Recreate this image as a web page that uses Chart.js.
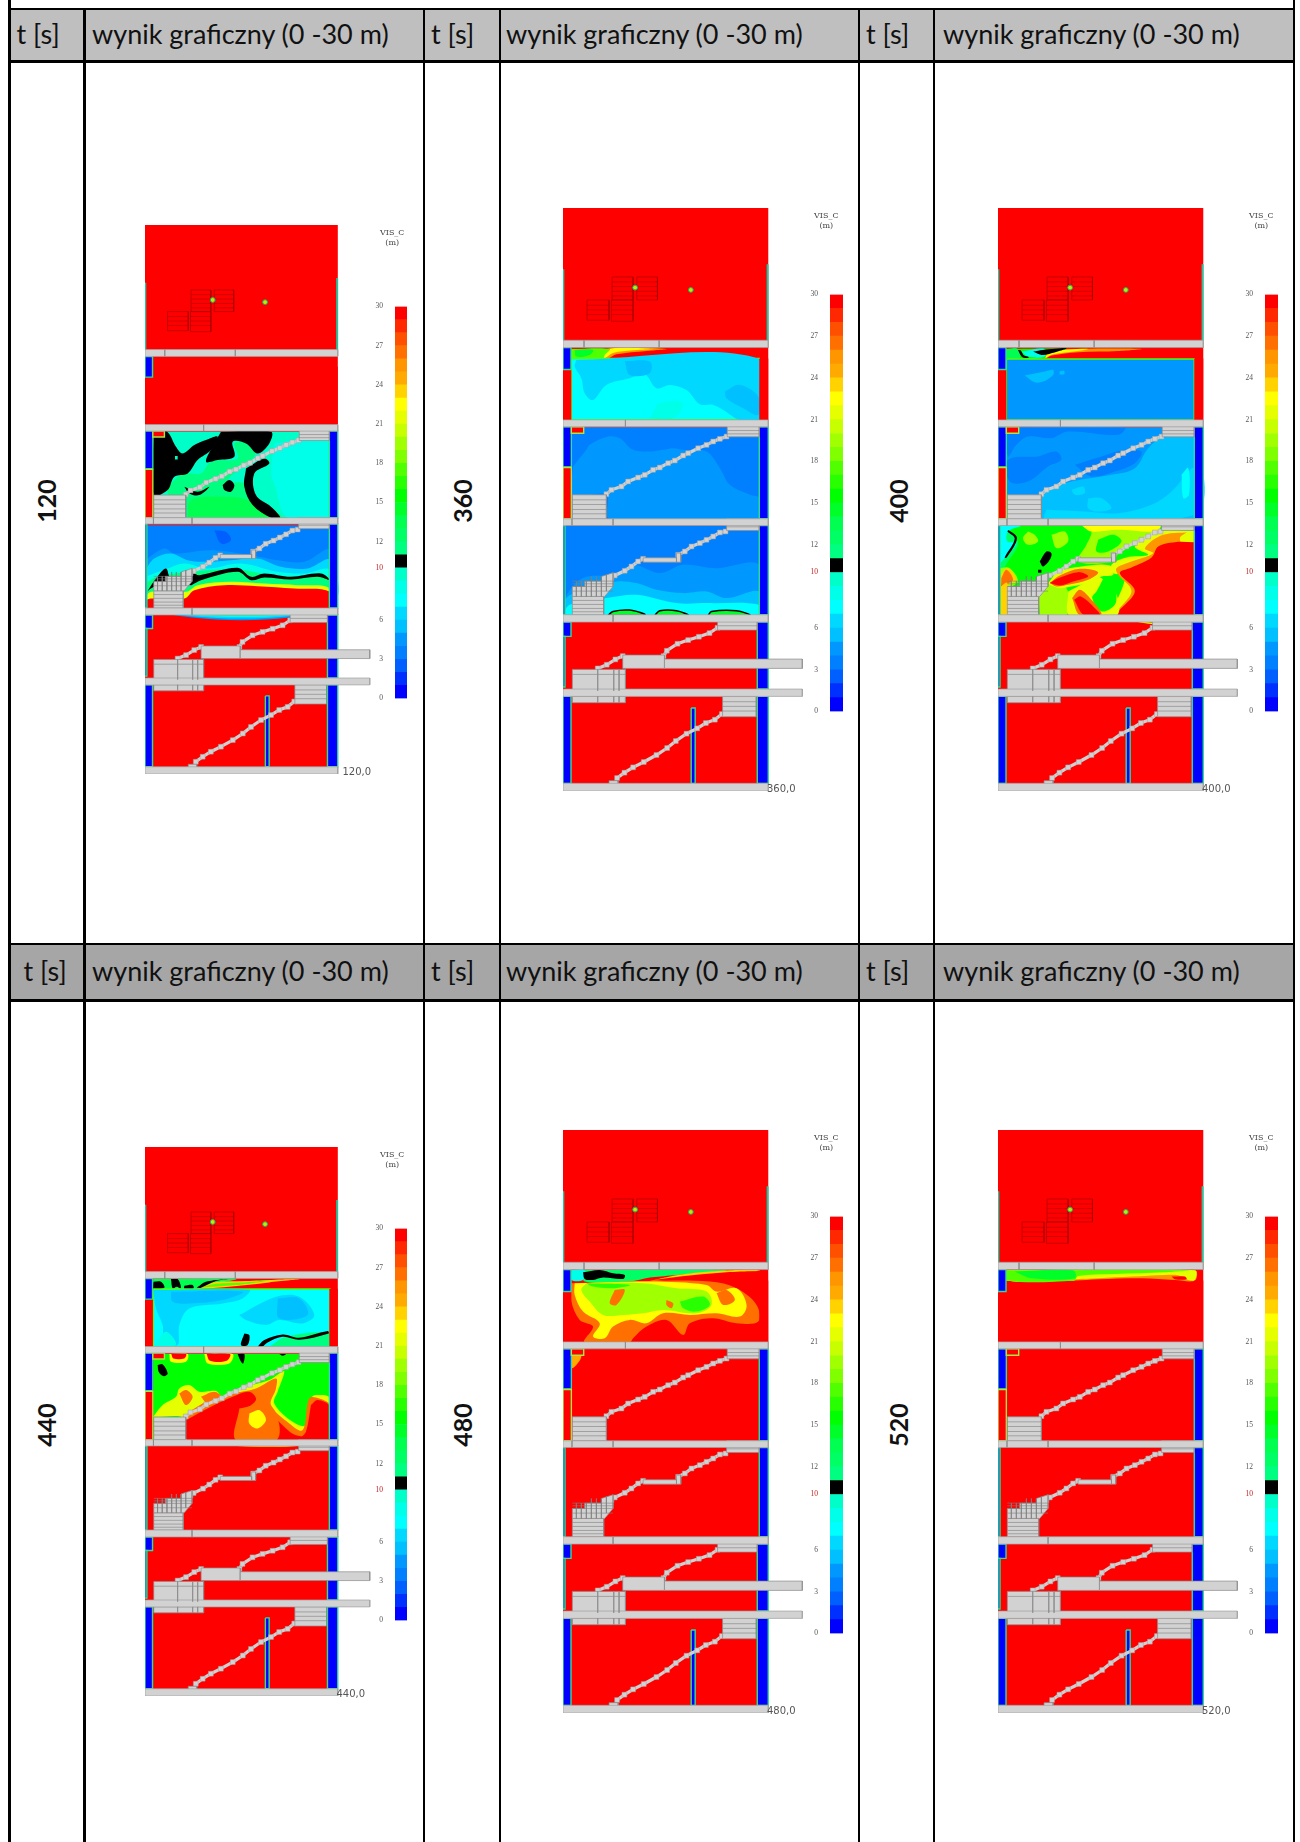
<!DOCTYPE html>
<html lang="pl">
<head>
<meta charset="utf-8">
<title>VIS_C</title>
<script src="https://cdn.jsdelivr.net/npm/chart.js@4"></script>
<style>
  html, body { margin: 0; padding: 0; background: #fff; }
  #page { position: relative; width: 1300px; height: 1842px; overflow: hidden; font-family: Lato, sans-serif; color: #111; }
  #page > * { position: absolute; }
  .line { background: #000; }
  .head { font-size: 27px; line-height: 30px; white-space: nowrap; }
  .time { font-size: 25px; font-weight: 700; line-height: 30px; transform: translate(-50%, -50%) rotate(-90deg); }
  .unit { font-family: "DejaVu Serif", serif; font-size: 8px; line-height: 10px; color: #444; text-align: center; width: 40px; }
  .stamp { font-family: "DejaVu Sans", sans-serif; font-size: 10px; color: #555; }
  canvas { filter: blur(0.5px); }
</style>
</head>
<body>
<div id="page"></div>
<script>
// --- dane ---
const TIMES = [120, 360, 400, 440, 480, 520];
const HEAD_TIME = 't [s]';
const HEAD_RESULT = 'wynik graficzny (0 -30 m)';
const LEGEND_TITLE = 'VIS_C';
const LEGEND_UNIT = '(m)';
const LEGEND_TICKS = [0, 3, 6, 10, 12, 15, 18, 21, 24, 27, 30];

// kolory skali, przedzial n-1..n metrow, od 1 do 30
const VIS_COLOURS = [
  '#0000ff', '#0030ff', '#0060ff', '#0080ff', '#0098ff', '#00c0ff', '#00d8ff', '#00ffff', '#00ffe8', '#00ffc8',
  '#000000', '#00ff80', '#00ff64', '#00ff50', '#00ff28', '#00ff00', '#28ff00', '#50ff00', '#80ff00', '#a0ff00',
  '#c8ff00', '#e6ff00', '#ffff00', '#ffd200', '#ffaa00', '#ff9600', '#ff7000', '#ff5000', '#ff2800', '#ff0000'
];

// --- budynek, jednostki modelu ---
const BUILDING_W = 615, MODEL_W = 740, MODEL_H = 1750;
const SLABS = [[0,397,615,419],[0,636,615,657],[0,933,615,953],[0,1221,615,1243],[0,1444,717,1466],[0,1727,615,1750]];
const SLAB_JOINTS = [[63,397,419],[288,397,419],[187,636,657],[27,933,953],[150,933,953],[150,1221,1243]];
const MASKS = [[588,452,615,636],[0,485,25,636]];
const BLUE_WALLS = [[0,419,24,485],[0,657,25,777],[588,657,615,933],[588,953,615,1221],[0,953,6,1221],[0,1243,24,1286],
  [0,1286,6,1438],[582,1243,615,1444],[0,1466,24,1727],[582,1466,615,1727],[384,1501,396,1727]];
const RED_WALLS = [[0,779,25,933],[25,657,62,676]];
const LANDINGS = [[28,861,130,933],[492,643,588,687],[490,933,588,968],[340,1036,353,1063],[240,1050,340,1063],
  [28,1166,122,1221],[463,1225,582,1267],[179,1342,304,1382],[304,1354,717,1382],[28,1385,187,1449],[28,1466,187,1485],
  [478,1466,579,1527],[138,1719,165,1731]];
const BLOCK_JOINTS = [[104,1385,1449],[152,1385,1449],[168,1385,1449],[104,1466,1485],[152,1466,1485],[168,1466,1485]];
const MESH_BLOCK = [28,1136,65,1136,65,1120,115,1120,115,1106,150,1095,150,1136,125,1166,28,1166];
const TREADS = [
  [28,130,[876,890,905,918]], [492,588,[655,668,678]], [490,588,[945,957]], [28,122,[1178,1190,1202,1212]],
  [463,582,[1240,1254]], [28,187,[1400]], [478,579,[1482,1496,1510]]
];
const MESH_ROWS = [[28,150,[1120,1128,1136,1150]]];
const MESH_COLS = [[40,1120,1166],[55,1120,1166],[70,1120,1166],[85,1106,1166],[100,1106,1166],[115,1106,1166],[130,1100,1150]];
const STAIRS = [
  [130,859,145,846,175,836,195,821,225,809,245,801,270,786,290,779,315,766,335,758,360,743,375,736,405,721,430,711,450,701,470,693,490,686],
  [487,971,470,974,450,986,430,996,410,1006,385,1016,365,1031,345,1041],
  [240,1053,225,1061,205,1076,185,1089,155,1103,145,1111],
  [463,1260,439,1276,407,1287,375,1297,343,1308,311,1329,301,1345],
  [179,1345,157,1355,131,1371,104,1382],
  [476,1519,455,1536,428,1546,402,1562,370,1578,338,1600,312,1621,280,1642,242,1663,210,1679,184,1695,162,1711]
];
const ROOF_EDGES = [[1,184,1,397],[613,169,613,397]];
const ROOF_UNITS = [[147,207,210,276],[221,207,283,276],[72,276,138,337],[145,276,210,340]];
const ROOF_ROWS = [222,236,250,264,292,306,320];
const ROOF_DOTS = [[216,239],[383,246]];

// --- pola widzialnosci: [poziom, obrys z odczytu, poziom obwodki] ---
const FIELD_120_F3 = [
  [10,[68,665,597,665,597,923,68,923]],
  [9,[430,700,500,690,597,690,597,923,470,923,430,820,420,790]],
  [12,[165,923,110,850,130,810,160,790,210,790,240,755,320,745,310,700,350,695,370,710,370,740,330,770,290,815,340,820,380,870,450,923]],
  [14,[170,923,180,870,280,860,350,870,420,923]],
  [11,[68,665,108,665,135,710,155,730,190,705,225,690,260,680,240,720,200,750,170,790,130,800,110,840,68,855]],
  [11,[270,665,420,665,415,700,380,730,345,700,305,695,310,740,260,750,225,755,250,700]],
  [11,[345,775,400,745,415,760,370,790,375,855,420,890,448,923,420,923,365,885,340,830]],
  [11,[275,825,295,810,310,825,300,845,280,840]],
  [11,[160,830,200,845,235,830,205,855,175,850]],
  [10,[132,738,140,738,140,748,132,748]]
];
const FIELD_120_F4 = [
  [4,[42,15,597,15,597,267,42,267]],
  [3,[250,30,285,35,300,60,270,70]],
  [5,[42,120,100,85,130,100,240,90,360,105,440,120,520,125,597,90,597,267,42,267]],
  [7,[42,150,70,115,120,100,170,120,230,125,300,120,380,115,450,140,530,145,597,120,597,267,42,267]],
  [9,[42,170,110,145,160,130,230,145,330,130,440,155,520,160,597,150,597,267,42,267]],
  [12,[42,190,80,170,185,155,320,148,420,165,500,170,597,175,597,267,42,267]],
  [11,[48,215,75,175,105,145,120,175,185,160,205,165,320,143,360,170,400,160,480,170,570,160,597,180,560,170,480,178,400,172,360,180,320,155,210,180,190,190,180,195,110,185,60,205]],
  [22,[42,230,60,215,165,215,200,195,300,185,400,190,500,195,597,205,597,267,42,267]],
  [30,[42,240,60,235,160,235,190,210,280,195,380,198,490,205,597,215,597,267,42,267]]
];
const FIELD_360 = [
  [26,[150,70,175,42,350,42,290,48,200,58,175,70]],
  [23,[150,70,170,42,310,42,250,46,190,54,165,70]],
  [18,[65,42,180,42,165,60,160,70,65,70]],
  [15,[75,45,130,45,120,60,80,65]],
  [8,[65,71,628,71,628,255,65,255],18],
  [7,[80,75,628,72,628,255,570,255,520,225,490,210,450,208,410,165,360,150,320,160,285,118,240,130,170,150,130,195,105,175,95,130,75,95]],
  [6,[225,78,300,80,300,115,240,120]],
  [6,[525,170,570,150,625,185,625,240,580,220,530,190]],
  [9,[300,250,330,205,400,205,370,250]],
  [4,[65,277,628,277,628,552,65,552]],
  [5,[70,395,110,345,120,330,175,305,210,310,250,345,305,350,340,345,370,340,400,345,470,350,510,400,540,450,600,480,628,490,628,552,180,552,170,480,70,480]],
  [4,[42,572,628,572,628,840,42,840]],
  [5,[40,840,40,800,100,730,190,720,250,690,330,715,400,690,500,700,628,690,628,840]],
  [6,[40,840,50,790,120,760,200,740,260,745,320,765,400,775,470,770,530,790,628,770,628,840]],
  [8,[40,840,60,810,170,790,260,780,380,805,480,805,628,810,628,840]],
  [15,[175,842,190,830,240,826,285,838,285,842],11],
  [15,[315,842,330,828,380,828,415,842],11],
  [15,[475,842,485,830,560,828,600,842],11]
];
const FIELD_400 = [
  [26,[175,70,195,50,290,42,470,42,400,48,280,52,200,62,185,70]],
  [23,[180,70,195,52,250,44,310,42,280,48,205,58]],
  [16,[65,42,245,42,185,55,180,70,65,70]],
  [14,[65,42,100,42,105,70,65,70]],
  [9,[110,50,180,42,180,65,130,65]],
  [11,[100,45,108,47,118,62,132,66,130,69,112,66]],
  [11,[145,50,175,45,245,40,190,58,170,60]],
  [5,[65,72,628,72,628,255,65,255],18],
  [6,[120,122,180,110,205,105,205,120,175,140,150,142]],
  [6,[225,110,238,108,238,118,225,118]],
  [5,[65,277,628,277,628,552,65,552]],
  [4,[65,277,420,277,400,300,250,290,200,310,130,305,95,330,70,365]],
  [4,[160,365,215,350,230,375,190,395,130,440,75,440,70,375]],
  [4,[270,390,350,365,420,345,470,350,450,385,390,410,320,425]],
  [6,[175,465,260,440,380,420,450,400,490,340,530,310,628,305,628,552,175,552]],
  [7,[185,525,300,530,400,535,500,510,560,470,628,400,628,540,180,550]],
  [7,[310,490,350,490,380,520,340,530,310,520]],
  [7,[260,465,295,455,300,475,270,480]],
  [8,[590,420,610,400,612,480,595,490]],
  [16,[42,572,628,572,628,840,42,840]],
  [13,[42,600,70,590,100,625,70,680,42,720]],
  [8,[42,572,110,572,70,590,68,620,95,625,60,670,42,685]],
  [20,[130,590,150,600,160,620,130,630,115,610]],
  [20,[200,600,240,590,250,620,215,640]],
  [20,[300,572,525,572,500,600,430,630,400,655,385,680,280,680,305,630,320,590]],
  [16,[340,615,385,600,410,620,370,650,335,650]],
  [23,[290,572,525,572,515,590,400,585,320,590]],
  [20,[42,700,75,700,100,740,70,760,42,780]],
  [24,[42,730,70,700,95,735,70,750,50,780,42,780]],
  [27,[50,730,65,705,85,735,62,752,50,775]],
  [24,[42,760,68,745,68,842,42,842]],
  [22,[628,588,525,590,450,635,490,660,425,668,380,690,385,715,420,725,395,842,628,842]],
  [26,[628,592,535,600,480,640,505,655,440,680,395,700,400,720,440,770,395,842,628,842]],
  [22,[605,592,628,592,628,640,600,640,585,610]],
  [30,[628,622,570,622,520,635,500,668,440,698,405,715,450,770,398,842,628,842]],
  [20,[165,842,165,770,195,750,245,760,245,842]],
  [22,[188,748,220,712,290,695,375,692,385,720,350,725,310,745,260,755,225,760]],
  [27,[195,745,225,722,285,702,340,712,310,735,250,750,215,755]],
  [30,[195,745,222,730,280,712,310,725,265,740,225,752]],
  [22,[250,770,300,745,340,725,395,780,395,842,255,842]],
  [16,[335,770,365,725,392,770,390,810,350,830,322,790]],
  [27,[262,790,285,765,320,795,350,835,345,842,285,842]],
  [30,[268,795,288,785,340,830,345,842,298,842]],
  [11,[165,680,185,650,200,655,195,675,175,695]],
  [11,[160,705,170,705,170,714,160,714]],
  [11,[68,590,72,586,97,610,66,668,60,668,90,612]]
];
const FIELD_440 = [
  [14,[52,42,300,42,185,65,183,71,52,71]],
  [24,[185,68,230,52,330,48,490,42,400,52,280,65,185,71]],
  [18,[190,68,240,56,330,52,400,46,300,60]],
  [11,[52,50,75,50,85,68,52,70]],
  [11,[105,42,125,42,135,70,122,65,110,70]],
  [11,[145,62,170,60,172,71,145,71]],
  [11,[183,68,210,50,290,42,240,48,195,68]],
  [8,[52,72,582,72,582,245,52,245],18],
  [7,[52,75,340,75,320,100,260,115,160,130,130,180,125,240,85,225,80,180,60,130]],
  [7,[310,150,420,95,490,95,535,150,500,175,430,165,390,180,330,165]],
  [6,[105,80,320,80,260,105,160,115,110,110]],
  [6,[425,100,490,100,515,150,430,160]],
  [9,[52,245,90,200,120,240]],
  [12,[400,245,450,215,582,205,582,245]],
  [11,[325,205,340,210,335,240,315,240]],
  [11,[365,245,385,225,440,208,490,218,575,198,578,205,490,224,440,215,395,232,378,245]],
  [16,[52,267,582,267,582,525,52,525]],
  [23,[100,267,155,267,150,290,105,290]],
  [30,[106,267,150,267,145,280,112,280]],
  [23,[205,267,290,267,280,295,215,295]],
  [30,[212,267,282,267,272,287,222,287]],
  [22,[52,455,80,420,120,395,130,370,160,360,190,380,240,378,260,395,290,380,350,360,400,345,430,325,445,320,425,380,415,415,470,470,510,480,525,400,540,390,582,400,582,525,150,525,148,460]],
  [27,[130,385,150,375,170,395,150,420]],
  [27,[195,395,235,380,255,395,215,415]],
  [27,[140,455,175,430,230,400,290,385,360,370,420,340,420,370,405,420,460,475,500,495,520,400,550,400,582,420,582,525,155,525]],
  [30,[150,465,215,430,290,395,340,380,360,405,310,450,300,525,155,525]],
  [30,[400,440,450,490,480,510,582,525,425,525]],
  [30,[525,420,545,405,582,425,582,525,490,525,510,500]],
  [27,[310,430,400,420,430,480,420,525,300,525]],
  [23,[340,445,370,435,390,465,365,490,340,475]],
  [11,[65,300,80,298,95,325,82,333,68,320]],
  [11,[305,267,325,267,322,295,315,290]],
  [11,[430,267,450,267,440,272]]
];
const FIELD_480 = [
  [13,[105,45,530,45,300,68,240,80,105,80]],
  [9,[65,45,105,45,100,75,65,75]],
  [24,[300,78,400,58,540,46,630,46,470,68]],
  [30,[305,76,420,62,530,52,620,50,460,72]],
  [11,[100,52,150,45,190,55,225,60,220,72,160,68,130,75,105,72]],
  [27,[65,85,300,78,480,80,560,100,620,150,625,200,560,205,490,190,420,205,400,240,350,195,290,215,250,250,240,262,105,262,130,215,90,195,65,140]],
  [23,[75,85,300,80,470,90,500,110,560,100,590,150,570,185,500,175,420,180,340,175,290,205,240,195,190,215,165,250,130,245,150,205,100,170,75,120]],
  [20,[110,85,280,85,380,100,470,110,485,150,440,175,340,165,280,175,220,180,160,180,120,140,95,105]],
  [17,[110,85,240,90,190,100,130,95]],
  [17,[390,140,460,125,480,150,440,170,400,160]],
  [27,[195,105,225,105,200,150,180,145]],
  [27,[350,135,370,145,365,160,350,150]],
  [27,[500,115,530,105,555,135,520,150]],
  [25,[65,300,95,305,68,340]]
];
const FIELD_520 = [
  [26,[26,421,590,421,590,452,530,450,430,445,300,448,230,452,26,452]],
  [22,[26,421,590,421,590,450,570,450,540,436,500,435,400,440,300,445,235,448,225,452,26,452]],
  [18,[26,421,570,421,500,427,350,432,240,438,228,452,26,452]],
  [15,[50,425,225,421,230,445,100,445]],
  [30,[520,440,560,440,565,448,530,448]]
];

// --- rozmieszczenie ---
const BIG = 1, SMALL = 0.9408;
const PANELS = [
  { x: 144.5, y: 225, k: SMALL, tx: 46, ty: 501, sx: 198, fields: [[FIELD_120_F3, -42, -45, 1.063], [FIELD_120_F4, -42, 885, 1.063]] },
  { x: 563, y: 208, k: BIG, tx: 462, ty: 501, sx: 204, fields: [[FIELD_360, -40, 381, 1]] },
  { x: 998, y: 208, k: BIG, tx: 897.5, ty: 501, sx: 204, fields: [[FIELD_400, -40, 381, 1]] },
  { x: 144.5, y: 1147, k: SMALL, tx: 46, ty: 1425, sx: 192, fields: [[FIELD_440, -27, 354, 1.063]] },
  { x: 563, y: 1130, k: BIG, tx: 462, ty: 1425, sx: 204, fields: [[FIELD_480, -40, 375, 1]] },
  { x: 998, y: 1130, k: BIG, tx: 897.5, ty: 1425, sx: 204, fields: [[FIELD_520, 0, 0, 1]] }
];
const COLS_X = [9.5, 84.5, 424, 500, 859, 934, 1294];
const HEADERS = [
  { top: 9, bottom: 60, fill: '#bfbfbf', labels: [[16.5, HEAD_TIME], [92, HEAD_RESULT], [431, HEAD_TIME], [506, HEAD_RESULT], [866, HEAD_TIME], [943, HEAD_RESULT]] },
  { top: 944, bottom: 999, fill: '#a6a6a6', labels: [[23.5, HEAD_TIME], [92, HEAD_RESULT], [431, HEAD_TIME], [506, HEAD_RESULT], [866, HEAD_TIME], [943, HEAD_RESULT]] }
];

const page = document.getElementById('page');
function box(cls, left, top, width, height, text) {
  const d = document.createElement('div');
  d.className = cls;
  d.style.left = left + 'px';
  d.style.top = top + 'px';
  if (width != null) d.style.width = width + 'px';
  if (height != null) d.style.height = height + 'px';
  if (text != null) d.textContent = text;
  page.appendChild(d);
  return d;
}

// tabela
HEADERS.forEach(h => {
  box('', COLS_X[0], h.top, COLS_X[6] - COLS_X[0], h.bottom - h.top).style.background = h.fill;
});
COLS_X.forEach((x, i) => {
  const outer = i === 0 || i === COLS_X.length - 1;
  box('line', x - 1.2, outer ? 0 : HEADERS[0].top, 2.5, outer ? 1842 : 1842 - HEADERS[0].top);
});
HEADERS.forEach(h => {
  box('line', COLS_X[0], h.top - 1.2, COLS_X[6] - COLS_X[0], 2.5);
  box('line', COLS_X[0], h.bottom, COLS_X[6] - COLS_X[0], 2.5);
  h.labels.forEach(l => box('head', l[0], (h.top + h.bottom) / 2 - 16, null, null, l[1]));
});

function pts(flat, ox, oy, k) {
  const out = [];
  for (let i = 0; i < flat.length; i += 2) out.push({ x: (flat[i] + ox) * k, y: (flat[i + 1] + oy) * k });
  return out;
}
const rect = r => [r[0], r[1], r[2], r[1], r[2], r[3], r[0], r[3], r[0], r[1]];
const isBox = f => f.length === 8 && f[1] === f[3] && f[2] === f[4];

function shape(flat, fill, border, width) {
  return { data: pts(flat, 0, 0, 1), showLine: true, fill: 'shape', backgroundColor: fill,
    borderColor: border || fill, borderWidth: width || 0, pointRadius: 0 };
}
function stroke(flat, colour, width) {
  return { data: pts(flat, 0, 0, 1), showLine: true, fill: false, borderColor: colour, borderWidth: width, pointRadius: 0 };
}

function panelDatasets(panel) {
  const ds = [];
  const red = VIS_COLOURS[29], blue = VIS_COLOURS[0];
  ds.push(shape(rect([0, 0, BUILDING_W, MODEL_H]), red));
  panel.fields.forEach(([list, ox, oy, k]) => {
    list.forEach(([level, flat, edge]) => {
      const closed = flat.concat(flat[0], flat[1]);
      ds.push({ data: pts(closed, ox, oy, k), showLine: true, fill: 'shape', backgroundColor: VIS_COLOURS[level - 1],
        borderColor: edge ? VIS_COLOURS[edge - 1] : VIS_COLOURS[level - 1], borderWidth: edge ? 1.5 : 0,
        tension: isBox(flat) ? 0 : 0.35, pointRadius: 0 });
    });
  });
  MASKS.forEach(r => ds.push(shape(rect(r), red)));
  BLUE_WALLS.forEach(r => ds.push(shape(rect(r), blue, '#30e090', 1.4)));
  RED_WALLS.forEach(r => ds.push(shape(rect(r), red, '#a8e840', 1.4)));
  ROOF_EDGES.forEach(l => ds.push(stroke(l, '#20c8a0', 2)));
  ROOF_UNITS.forEach(r => {
    ds.push(stroke(rect(r), '#a00000', 0.6));
    ROOF_ROWS.filter(y => y > r[1] && y < r[3]).forEach(y => ds.push(stroke([r[0], y, r[2], y], '#a00000', 0.5)));
  });
  ds.push({ data: ROOF_DOTS.map(p => ({ x: p[0], y: p[1] })), pointRadius: 2.4, backgroundColor: '#c8e800', borderColor: '#10b070', borderWidth: 1 });
  STAIRS.forEach(s => {
    const d = stroke(s, '#d0d0d0', 3.2);
    d.pointStyle = 'rect';
    d.pointRadius = 3.4;
    d.pointBackgroundColor = '#d2d2d2';
    d.pointBorderColor = '#a0a0a0';
    d.pointBorderWidth = 0.5;
    ds.push(d);
  });
  LANDINGS.forEach(r => ds.push(shape(rect(r), '#d2d2d2', '#8c8c8c', 0.7)));
  ds.push(shape(MESH_BLOCK.concat(MESH_BLOCK[0], MESH_BLOCK[1]), '#d2d2d2', '#8c8c8c', 0.7));
  MESH_ROWS.forEach(([a, b, ys]) => ys.forEach(y => ds.push(stroke([a, y, b, y], '#808080', 0.6))));
  MESH_COLS.forEach(([x, a, b]) => ds.push(stroke([x, a, x, b], '#808080', 0.6)));
  TREADS.forEach(([a, b, ys]) => ys.forEach(y => ds.push(stroke([a, y, b, y], '#808080', 0.6))));
  SLABS.forEach(r => ds.push(shape(rect(r), '#d2d2d2', '#a0a0a0', 0.7)));
  SLAB_JOINTS.concat(BLOCK_JOINTS).forEach(([x, a, b]) => ds.push(stroke([x, a, x, b], '#8c8c8c', 0.7)));
  return ds.reverse(); // pierwszy dataset jest rysowany na wierzchu
}

function addCanvas(left, top, width, height) {
  const c = document.createElement('canvas');
  c.width = Math.round(width);
  c.height = Math.round(height);
  c.style.left = left + 'px';
  c.style.top = top + 'px';
  c.style.width = Math.round(width) + 'px';
  c.style.height = Math.round(height) + 'px';
  page.appendChild(c);
  return c.getContext('2d');
}

PANELS.forEach((panel, i) => {
  const px = panel.k / 3; // piksele na jednostke
  box('time', panel.tx, panel.ty, null, null, String(TIMES[i]));

  // przekroj budynku
  new Chart(addCanvas(panel.x, panel.y, MODEL_W * px, MODEL_H * px), {
    type: 'scatter',
    data: { datasets: panelDatasets(panel) },
    options: {
      responsive: false,
      animation: false,
      layout: { padding: 0, autoPadding: false },
      plugins: { legend: { display: false }, tooltip: { enabled: false }, title: { display: false } },
      scales: {
        x: { type: 'linear', display: false, min: 0, max: MODEL_W },
        y: { type: 'linear', display: false, min: 0, max: MODEL_H, reverse: true }
      }
    }
  });

  // skala kolorow
  const barW = 38 * px, axisW = 20, pad = 8;
  const barH = 1250 * px;
  new Chart(addCanvas(panel.x + 800 * px - axisW, panel.y + 257 * px - pad, axisW + barW, barH + 1 + 2 * pad), {
    type: 'bar',
    data: {
      labels: [LEGEND_TITLE],
      datasets: VIS_COLOURS.map(c => ({ data: [1], backgroundColor: c, barPercentage: 1, categoryPercentage: 1 }))
    },
    options: {
      responsive: false,
      animation: false,
      layout: { padding: { top: pad, bottom: pad }, autoPadding: false },
      plugins: { legend: { display: false }, tooltip: { enabled: false } },
      scales: {
        x: { display: false, stacked: true },
        y: {
          stacked: true, min: 0, max: 30,
          afterBuildTicks: ax => { ax.ticks = LEGEND_TICKS.map(v => ({ value: v })); },
          afterFit: ax => { ax.width = axisW; },
          grid: { display: false },
          border: { display: false },
          ticks: {
            autoSkip: false, padding: 4, color: c => c.tick.value === 10 ? '#c02020' : '#555',
            font: { family: 'Liberation Serif', size: 7.5 }
          }
        }
      }
    }
  });

  box('unit', panel.x + 790 * px - 20, panel.y + 3, null, null, LEGEND_TITLE);
  box('unit', panel.x + 790 * px - 20, panel.y + 13, null, null, LEGEND_UNIT);
  box('stamp', panel.x + panel.sx, panel.y + 1725 * px, null, null, TIMES[i] + ',0');
});
</script>
</body>
</html>
